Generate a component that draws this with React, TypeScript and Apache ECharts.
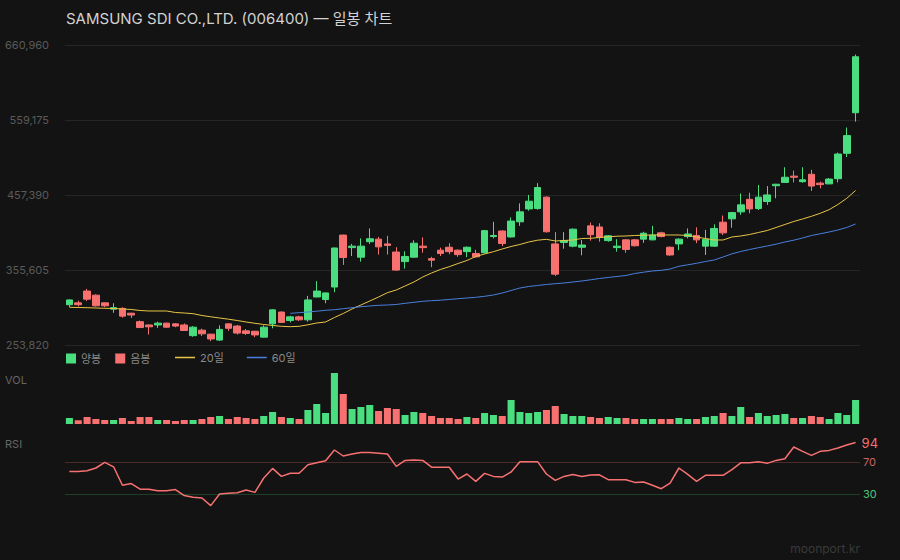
import React, { useEffect, useRef } from "react";
import * as echarts from "echarts";

const TITLE = "SAMSUNG SDI CO.,LTD. (006400) — 일봉 차트";

const dates = [
  "06-02","06-03","06-04","06-05","06-06","06-09","06-10","06-11","06-12","06-13",
  "06-16","06-17","06-18","06-19","06-20","06-23","06-24","06-25","06-26","06-27",
  "06-30","07-01","07-02","07-03","07-04","07-07","07-08","07-09","07-10","07-11",
  "07-14","07-15","07-16","07-17","07-18","07-21","07-22","07-23","07-24","07-25",
  "07-28","07-29","07-30","07-31","08-01","08-04","08-05","08-06","08-07","08-08",
  "08-11","08-12","08-13","08-14","08-15","08-18","08-19","08-20","08-21","08-22",
  "08-25","08-26","08-27","08-28","08-29","09-01","09-02","09-03","09-04","09-05",
  "09-08","09-09","09-10","09-11","09-12","09-15","09-16","09-17","09-18","09-19",
  "09-22","09-23","09-24","09-25","09-26","09-29","09-30","10-01","10-02","10-03",
];

// [open, close, low, high]
const ohlc: number[][] = [
  [308500, 315000, 305500, 315500], [311000, 308500, 306000, 314000], [327000, 316000, 313500, 330000],
  [321500, 307000, 306000, 322500], [311000, 307000, 305000, 311500], [302500, 304500, 297500, 310500],
  [303500, 293000, 291000, 305000], [297000, 294500, 290500, 297500], [285500, 277500, 277000, 287000],
  [281000, 278500, 268000, 281500], [281000, 283500, 277000, 285500], [283500, 278000, 277500, 284000],
  [282500, 279500, 278000, 283500], [281000, 273500, 273000, 283000], [266500, 278000, 265000, 279500],
  [274000, 269000, 266000, 276000], [268500, 262000, 259000, 269000], [260500, 275000, 259500, 280500],
  [282500, 276500, 273000, 283000], [279500, 270000, 268000, 281000], [273000, 269500, 267500, 275500],
  [272500, 267500, 264500, 273000], [264500, 278000, 264000, 280500], [282500, 301500, 276500, 302500],
  [298500, 284500, 284000, 299500], [287000, 292000, 284500, 293500], [292000, 288000, 286500, 293500],
  [288000, 315000, 285500, 320500], [319000, 327000, 318500, 340500], [315500, 324500, 310500, 325000],
  [332500, 385500, 325500, 386000], [403000, 372500, 362500, 403500], [386000, 388000, 374500, 391000],
  [373000, 388000, 367000, 398500], [394000, 398000, 391000, 412000], [397500, 387000, 376500, 400500],
  [391000, 389000, 376500, 402000], [380000, 355500, 354500, 386500], [367000, 374000, 357500, 381000],
  [373000, 392000, 372000, 396000], [388000, 386000, 379000, 400000], [371000, 369000, 359500, 373500],
  [382500, 378000, 374500, 386000], [386500, 380500, 377000, 392000], [382500, 376500, 373500, 383500],
  [380500, 386500, 373000, 387500], [378000, 373500, 372500, 383000], [379000, 409000, 378000, 410000],
  [401000, 402500, 398500, 421000], [408500, 391500, 388000, 409500], [400500, 422000, 399500, 427000],
  [421000, 434500, 415500, 446000], [438500, 449000, 436000, 457500], [439000, 467500, 437500, 473500],
  [454500, 407500, 406500, 455500], [391000, 350000, 347500, 407000], [393000, 395500, 384500, 407000],
  [388000, 411000, 386500, 412000], [386500, 389500, 375500, 396500], [415500, 403500, 395500, 420000],
  [414000, 400000, 394000, 419000], [395500, 402000, 394000, 403000], [386000, 388000, 380500, 397500],
  [396500, 383500, 379000, 397500], [396500, 388500, 387500, 397500], [397500, 405500, 392500, 407500],
  [396500, 403000, 396000, 415500], [406000, 401000, 400000, 407500], [386500, 376000, 375000, 387500],
  [391000, 397500, 382500, 398500], [401000, 404500, 398500, 412000], [402500, 396500, 392000, 413500],
  [388000, 397500, 376000, 410000], [388000, 412000, 387000, 417500], [420500, 406000, 403000, 429500],
  [425000, 433500, 413000, 434500], [434500, 444000, 430500, 459500], [451500, 438500, 432500, 460500],
  [439000, 454500, 437000, 471000], [448500, 457500, 444000, 469500], [470000, 472000, 453000, 472500],
  [474500, 481500, 474000, 495000], [483000, 481500, 474500, 490500], [475500, 478000, 474000, 495000],
  [485500, 469500, 463000, 491500], [473500, 471500, 466500, 475500], [472500, 479000, 472000, 480500],
  [479500, 513000, 474500, 515000], [514000, 538000, 509000, 549000], [569000, 645000, 557000, 648000],
];

const volumes = [
  144000, 89000, 168000, 120000, 96000, 96000, 144000, 72000, 168000, 168000,
  96000, 96000, 72000, 96000, 96000, 120000, 168000, 192000, 120000, 168000,
  144000, 120000, 192000, 288000, 168000, 144000, 120000, 336000, 480000, 264000,
  1224000, 720000, 360000, 408000, 456000, 312000, 384000, 360000, 216000, 288000,
  264000, 192000, 144000, 144000, 120000, 168000, 144000, 264000, 216000, 192000,
  576000, 288000, 264000, 288000, 336000, 432000, 240000, 192000, 192000, 168000,
  144000, 168000, 144000, 144000, 120000, 120000, 120000, 120000, 120000, 144000,
  120000, 120000, 168000, 192000, 264000, 192000, 408000, 168000, 264000, 192000,
  216000, 240000, 144000, 144000, 192000, 168000, 120000, 264000, 216000, 576000,
];

const ma20 = [
  304985, 304714, 304442, 304035, 303628, 303356, 302678, 301999, 300642, 299964,
  299964, 299964, 297928, 297249, 296299, 293856, 292092, 290464, 288835, 287071,
  285035, 283271, 281642, 280285, 279199, 278656, 279199, 281235, 283678, 285035,
  291142, 296571, 302678, 308106, 313535, 318963, 324799, 328463, 333892, 339320,
  346106, 351535, 356284, 360084, 364427, 368499, 373927, 377320, 380441, 384105,
  387498, 390212, 393606, 396048, 397269, 394963, 395641, 396320, 398355, 398627,
  399713, 400662, 401476, 401748, 402427, 402834, 403105, 403105, 403105, 403105,
  402427, 400391, 398355, 396320, 396320, 400391, 401748, 403784, 406498, 409213,
  413284, 417355, 421427, 424820, 428484, 432555, 437441, 444498, 452912, 463498,
];

const ma60 = [
  null, null, null, null, null, null, null, null, null, null,
  null, null, null, null, null, null, null, null, null, null,
  null, null, null, null, null, 296842, 297656, 298606, 299692, 300913,
  301728, 303085, 304442, 305799, 306749, 307699, 308106, 308785, 310414, 311771,
  313128, 313942, 314621, 315571, 316656, 317606, 318556, 319913, 321678, 324392,
  327785, 331178, 333213, 334570, 335927, 337013, 337963, 339320, 340677, 342306,
  344070, 345427, 346785, 348142, 350856, 352620, 354249, 355199, 356963, 360627,
  362663, 364699, 367141, 369177, 373249, 377591, 380713, 383427, 385870, 388177,
  390620, 393606, 396048, 399034, 402427, 404734, 407177, 409891, 413284, 418034,
];

const rsi = [
  58, 58, 59, 62.5, 69.5, 64, 41, 43, 36, 36,
  34, 34, 35.5, 28, 26, 25, 15.5, 30, 31, 31.5,
  35, 32, 50, 62, 52, 56, 56, 66.5, 69, 71.5,
  85, 77.5, 80, 82, 82, 81, 80, 64.5, 72, 72.5,
  72, 63.5, 63.5, 63.5, 48.7, 55, 45.8, 55.8, 52, 51.2,
  57.5, 70.4, 70.4, 70.4, 55, 47, 52, 54.5, 52, 53.7,
  54, 47.9, 47.9, 47.9, 44.5, 45, 41, 36.6, 43.7, 62.5,
  54.5, 45.8, 53.3, 53.3, 53.3, 60.4, 69, 69, 70.4, 68.3,
  72, 74, 88.7, 83.3, 78.3, 83.3, 84.5, 87.5, 91.2, 94.3,
];

const PRICE_MIN = 253820;
const PRICE_MAX = 660960;
const PRICE_STEP = 101785;
const LAST_PRICE = 645000;
const RSI_LEVELS = [70, 30];

const UP = "#4ade80";
const DOWN = "#f87171";
const MA20_COLOR = "#e8c547";
const MA60_COLOR = "#4a7fdc";
const FONT = 'Inter, "Noto Sans CJK KR", "Noto Sans", sans-serif';

export default function App() {
  const ref = useRef<HTMLDivElement>(null);

  useEffect(() => {
    if (!ref.current) return;
    const chart = echarts.init(ref.current, undefined, { renderer: "svg" });
    const volUp = volumes.map((v, i) => (ohlc[i][1] >= ohlc[i][0] ? v : "-"));
    const volDown = volumes.map((v, i) => (ohlc[i][1] < ohlc[i][0] ? v : "-"));
    const grids = [
      { left: 65, right: 40, top: 45, height: 300 },
      { left: 65, right: 40, top: 373, height: 51 },
      { left: 65, right: 40, top: 438, height: 80 },
    ];
    chart.setOption({
      animation: false,
      backgroundColor: "#131313",
      textStyle: { fontFamily: FONT },
      title: {
        text: TITLE,
        left: 66,
        top: 11,
        padding: 0,
        textStyle: { color: "#d2d2d2", fontSize: 15, fontWeight: "normal", fontFamily: FONT },
      },
      legend: [
        {
          data: [
            { name: "양봉", icon: "rect" },
            { name: "음봉", icon: "rect" },
          ],
          left: 66,
          top: 353,
          padding: 0,
          itemWidth: 10,
          itemHeight: 10,
          itemGap: 14,
          selectedMode: false,
          textStyle: { color: "#8a8a8a", fontSize: 11, fontFamily: FONT },
        },
        {
          data: [
            { name: "20일", icon: "rect", itemStyle: { color: MA20_COLOR } },
            { name: "60일", icon: "rect", itemStyle: { color: MA60_COLOR } },
          ],
          left: 175,
          top: 352,
          padding: 0,
          itemWidth: 20,
          itemHeight: 1.5,
          itemGap: 23,
          selectedMode: false,
          textStyle: { color: "#8a8a8a", fontSize: 11, fontFamily: FONT },
        },
      ],
      grid: grids,
      xAxis: [0, 1, 2].map((g) => ({
        type: "category",
        data: dates,
        gridIndex: g,
        show: false,
        boundaryGap: true,
      })),
      yAxis: [
        {
          gridIndex: 0,
          type: "value",
          min: PRICE_MIN,
          max: PRICE_MAX,
          interval: PRICE_STEP,
          axisLine: { show: false },
          axisTick: { show: false },
          axisLabel: {
            color: "#5a5a5a",
            fontSize: 11,
            margin: 16,
            fontFamily: FONT,
            formatter: (v: number) => v.toLocaleString("en-US"),
          },
          splitLine: { lineStyle: { color: "#262626", width: 1 } },
        },
        { gridIndex: 1, type: "value", min: 0, max: "dataMax", show: false, splitLine: { show: false } },
        { gridIndex: 2, type: "value", min: 0, max: 100, show: false, splitLine: { show: false } },
      ],
      graphic: [
        { type: "text", left: 5, top: 374, style: { text: "VOL", fill: "#666", fontSize: 11, fontFamily: FONT } },
        { type: "text", left: 5, top: 438, style: { text: "RSI", fill: "#666", fontSize: 11, fontFamily: FONT } },
        { type: "text", right: 40, bottom: 6, style: { text: "moonport.kr", fill: "#3a3a3a", fontSize: 12, fontFamily: FONT } },
      ],
      series: [
        {
          name: "price",
          type: "candlestick",
          xAxisIndex: 0,
          yAxisIndex: 0,
          data: ohlc,
          barWidth: "80%",
          itemStyle: { color: UP, color0: DOWN, borderColor: UP, borderColor0: DOWN, borderWidth: 1 },
          markLine: {
            silent: true,
            symbol: ["none", "none"],
            lineStyle: { opacity: 0 },
            label: {
              show: true,
              position: "end",
              distance: 5,
              color: UP,
              fontSize: 13,
              fontFamily: FONT,
              formatter: (p: any) => Number(p.value).toLocaleString("en-US"),
            },
            data: [{ yAxis: LAST_PRICE }],
          },
        },
        {
          name: "20일",
          type: "line",
          xAxisIndex: 0,
          yAxisIndex: 0,
          data: ma20,
          symbol: "none",
          lineStyle: { color: MA20_COLOR, width: 1 },
          itemStyle: { color: MA20_COLOR },
        },
        {
          name: "60일",
          type: "line",
          xAxisIndex: 0,
          yAxisIndex: 0,
          data: ma60,
          symbol: "none",
          lineStyle: { color: MA60_COLOR, width: 1 },
          itemStyle: { color: MA60_COLOR },
        },
        {
          name: "양봉",
          type: "bar",
          xAxisIndex: 1,
          yAxisIndex: 1,
          data: volUp,
          barWidth: "80%",
          barGap: "-100%",
          itemStyle: { color: UP },
        },
        {
          name: "음봉",
          type: "bar",
          xAxisIndex: 1,
          yAxisIndex: 1,
          data: volDown,
          barWidth: "80%",
          barGap: "-100%",
          itemStyle: { color: DOWN },
        },
        {
          name: "RSI",
          type: "line",
          xAxisIndex: 2,
          yAxisIndex: 2,
          data: rsi,
          symbol: "none",
          lineStyle: { color: DOWN, width: 1.5 },
          itemStyle: { color: DOWN },
          endLabel: {
            show: true,
            distance: 6,
            color: DOWN,
            fontSize: 13,
            fontFamily: FONT,
            formatter: (p: any) => String(Math.round(p.value)),
          },
          markLine: {
            silent: true,
            symbol: ["none", "none"],
            data: [
              {
                yAxis: RSI_LEVELS[0],
                lineStyle: { color: "rgba(248,113,113,0.25)", width: 1, type: "solid" },
                label: { show: true, position: "end", distance: 3, color: "#c86464", fontSize: 11, fontFamily: FONT },
              },
              {
                yAxis: RSI_LEVELS[1],
                lineStyle: { color: "rgba(74,222,128,0.22)", width: 1, type: "solid" },
                label: { show: true, position: "end", distance: 3, color: "#4ec77a", fontSize: 11, fontFamily: FONT },
              },
            ],
          },
        },
      ],
    });
    return () => chart.dispose();
  }, []);

  return (
    <div
      ref={ref}
      style={{ position: "fixed", left: 0, top: 0, width: 900, height: 560, background: "#131313" }}
    />
  );
}
